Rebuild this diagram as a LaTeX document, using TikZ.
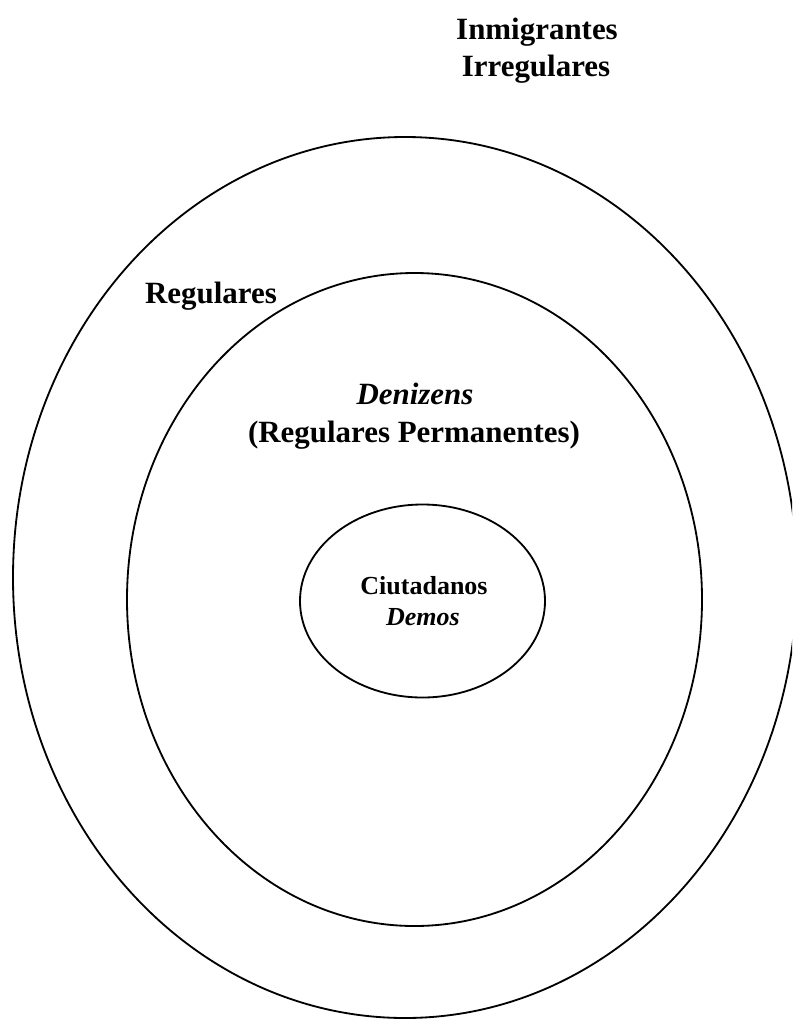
\documentclass[tikz,border=0pt]{standalone}
\usepackage{fontspec}
\setmainfont{Liberation Serif}
\usepackage{tikz}

\begin{document}
\begin{tikzpicture}[line cap=round,line join=round,x=0.025cm,y=-0.025cm,
  lbl/.style={anchor=base,inner sep=0pt,font=\bfseries\fontsize{22}{26}\selectfont},
  sml/.style={anchor=base,inner sep=0pt,font=\bfseries\fontsize{18.5}{22}\selectfont}]
\clip(0,0) rectangle (792,1019);
\draw[line width=1.3pt] (405,577.5) ellipse (392 and 440.5);
\draw[line width=1.3pt] (414.5,599.5) ellipse (287.5 and 326.5);
\draw[line width=1.3pt] (422.5,601) ellipse (122.5 and 96.5);
\node[lbl] (inmig) at (537,39) {Inmigrantes};
\node[lbl] (irreg) at (536,76) {Irregulares};
\node[lbl] (regul) at (211,303) {Regulares};
\node[lbl] (deniz) at (415,404) {\itshape Denizens};
\node[lbl] (perma) at (414,442) {(Regulares Permanentes)};
\node[sml] (ciuta) at (424,594) {Ciutadanos};
\node[sml] (demos) at (423,625) {\itshape Demos};
\end{tikzpicture}
\end{document}
